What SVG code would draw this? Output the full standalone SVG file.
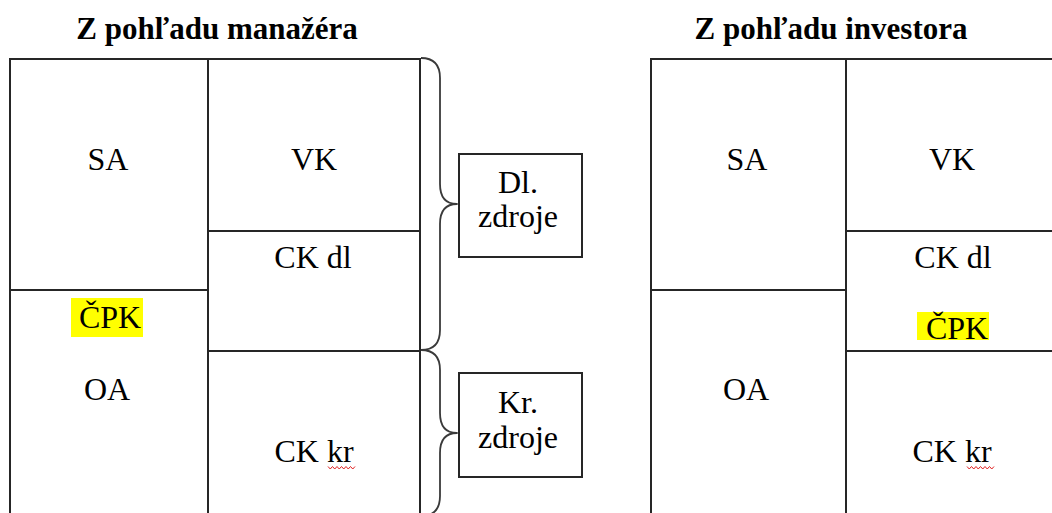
<svg xmlns="http://www.w3.org/2000/svg" width="1052" height="513" viewBox="0 0 1052 513">
  <style>
    .ln { stroke: #262626; stroke-width: 2; fill: none; }
    .brace { stroke: #3a3a3a; stroke-width: 1.8; fill: none; stroke-linejoin: round; }
    .box { fill: #ffffff; stroke: #262626; stroke-width: 2; }
    .t, .title { font-family: "Liberation Serif", "Times New Roman", Times, "Noto Serif", "DejaVu Serif", FreeSerif, Georgia, serif; fill: #000; text-anchor: middle; }
    .t { font-size: 32px; }
    .title { font-size: 31px; font-weight: bold; }
    .hl { fill: #ffff00; }
    .squiggle { stroke: #e02020; stroke-width: 1; fill: none; }
  </style>
  <defs>
    <path id="wave" d="M0,0 l2.25,2.5 l2.25,-2.5 l2.25,2.5 l2.25,-2.5 l2.25,2.5 l2.25,-2.5 l2.25,2.5 l2.25,-2.5 l2.25,2.5 l2.25,-2.5 l2.25,2.5 l2.25,-2.5"/>
  </defs>
  <rect width="1052" height="513" fill="#ffffff"/>

  <!-- Manager's view -->
  <g id="title-manager">
    <text class="title" x="217" y="39">Z pohľadu manažéra</text>
  </g>
  <g id="table-manager">
    <path class="ln" d="M10,520 V59 H420 V520 M208,59 V520 M10,290 H208 M208,231 H420 M208,351 H420"/>
  </g>
  <g id="cell-m-sa"><text class="t" x="108" y="170">SA</text></g>
  <g id="cell-m-vk"><text class="t" x="314" y="170">VK</text></g>
  <g id="cell-m-ckdl"><text class="t" x="313" y="268">CK dl</text></g>
  <g id="cell-m-oa">
    <rect class="hl" x="71" y="298" width="72" height="39"/>
    <text class="t" x="110" y="328">ČPK</text>
    <text class="t" x="107" y="400">OA</text>
  </g>
  <g id="cell-m-ckkr">
    <text class="t" x="314" y="462">CK kr</text>
    <use href="#wave" class="squiggle" x="328" y="466.5"/>
  </g>

  <!-- Braces grouping the sources -->
  <g id="connectors">
    <path class="brace" d="M421,58 Q440,58 440,78 L440,184 Q440,204 457,204 Q440,204 440,224 L440,330 Q440,350 421,350"/>
    <path class="brace" d="M421,350 Q440,350 440,370 L440,413 Q440,433 457,433 Q440,433 440,453 L440,496 Q440,516 421,516"/>
  </g>

  <g id="box-dl">
    <rect class="box" x="459" y="154" width="123" height="103"/>
    <text class="t" x="518" y="193">Dl.</text>
    <text class="t" x="518" y="227">zdroje</text>
  </g>
  <g id="box-kr">
    <rect class="box" x="459" y="373" width="123" height="104"/>
    <text class="t" x="518" y="413">Kr.</text>
    <text class="t" x="518" y="448">zdroje</text>
  </g>

  <!-- Investor's view -->
  <g id="title-investor">
    <text class="title" x="831" y="39">Z pohľadu investora</text>
  </g>
  <g id="table-investor">
    <path class="ln" d="M651,520 V59 H1060 M846,59 V520 M651,290 H846 M846,231 H1060 M846,351 H1060"/>
  </g>
  <g id="cell-i-sa"><text class="t" x="747" y="170">SA</text></g>
  <g id="cell-i-vk"><text class="t" x="952" y="170">VK</text></g>
  <g id="cell-i-ckdl">
    <text class="t" x="953" y="268">CK dl</text>
    <rect class="hl" x="917" y="312" width="72" height="28"/>
    <text class="t" x="957" y="339">ČPK</text>
  </g>
  <g id="cell-i-oa"><text class="t" x="746" y="400">OA</text></g>
  <g id="cell-i-ckkr">
    <text class="t" x="952" y="462">CK kr</text>
    <use href="#wave" class="squiggle" x="967" y="466.5"/>
  </g>
</svg>
